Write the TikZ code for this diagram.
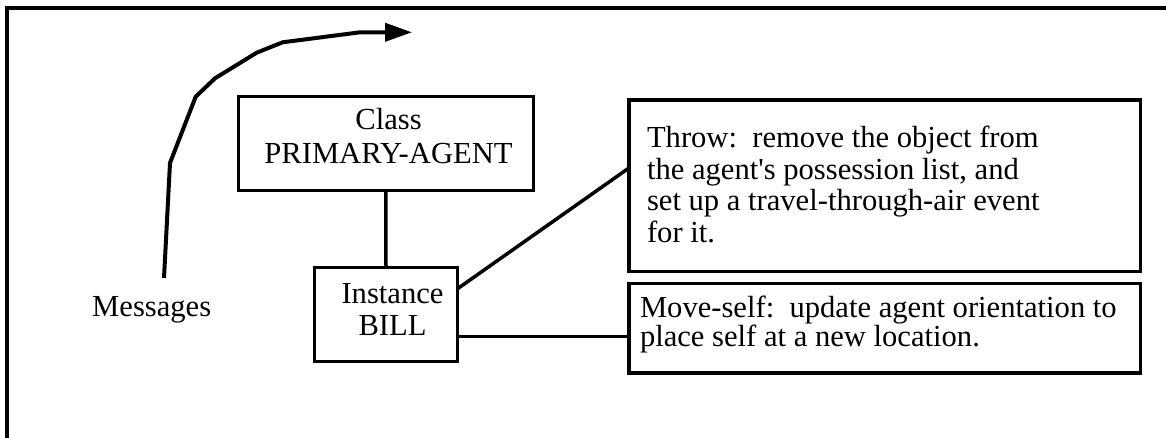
\documentclass[tikz,border=0pt]{standalone}
\usepackage{fontspec}
\setmainfont{Liberation Serif}
\usetikzlibrary{arrows.meta}
\frenchspacing
\begin{document}
\begin{tikzpicture}[x=1pt,y=-1pt,
  box/.style={draw, line width=3.2pt, inner sep=0pt, outer sep=0pt},
  txt/.style={inner sep=0pt, outer sep=0pt},
  link/.style={line width=3.5pt},
  frame/.style={line width=4pt},
  msgarrow/.style={line width=4pt, line join=round, -{Triangle[length=27pt,width=18pt]}}]
\useasboundingbox (0,0) rectangle (1166,438);
% outer frame (only top and left edges visible)
\draw[frame] (7.3,450) -- (7.3,8.3) -- (1180,8.3);

% boxes
\node[box, minimum width=295pt, minimum height=94pt] (class) at (385.8,143.7) {};
\node[box, minimum width=143.4pt, minimum height=94pt] (inst) at (386,314.7) {};
\node[box, minimum width=511.7pt, minimum height=171.7pt] (throw) at (884.85,185.85) {};
\node[box, minimum width=511.7pt, minimum height=89.3pt] (move) at (884.85,328.35) {};

% texts
\node[txt, anchor=north, align=center, font=\fontsize{30.6}{34}\selectfont] (classtxt) at (388.5,108.4) {Class\\PRIMARY-AGENT};
\node[txt, anchor=north, align=center, font=\fontsize{30.6}{32}\selectfont] (insttxt) at (392.5,283.0) {Instance\\BILL};
\node[txt, anchor=north west, align=left, font=\fontsize{30.6}{31.7}\selectfont] (throwtxt) at (647,125.8)
  {Throw:\ \ remove the object from\\the agent\textquotesingle s possession list, and\\set up a travel-through-air event\\for it.};
\node[txt, anchor=north west, align=left, font=\fontsize{30.6}{26.5}\selectfont] (movetxt) at (640,296.1)
  {Move-self:\ \ update agent orientation to\\place self at a new location.};
\node[txt, anchor=base, font=\fontsize{30.6}{34}\selectfont] (msg) at (151.7,316) {Messages};

% connectors
\draw[link] (class.south) -- (inst.north);
\draw[link] (inst.20) -- (throw.176);
\draw[link] (inst.-17) -- (inst.-17 -| move.west);

% messages arrow
\coordinate (mstart) at (164,278);
\coordinate (mend) at (412,32.3);
\draw[msgarrow] (mstart) -- (170,163) -- (195.7,96.7) -- (215,78.3) -- (256.7,52.7) -- (282.7,42.3) -- (360,32.3) -- (mend);
\end{tikzpicture}
\end{document}
